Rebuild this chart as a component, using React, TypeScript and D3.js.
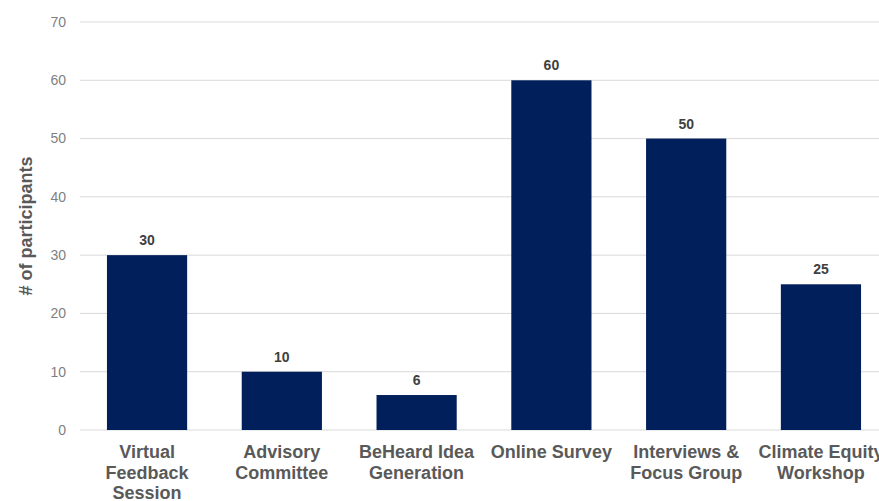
import React from "react";
import * as d3 from "d3";

const categories: string[][] = [
  ["Virtual", "Feedback", "Session"],
  ["Advisory", "Committee"],
  ["BeHeard Idea", "Generation"],
  ["Online Survey"],
  ["Interviews &", "Focus Group"],
  ["Climate Equity", "Workshop"],
];
const values = [30, 10, 6, 60, 50, 25];
const yTicks = [0, 10, 20, 30, 40, 50, 60, 70];

const W = 879;
const H = 501;
const FONT = "'Liberation Sans', Arial, sans-serif";

export default function App() {
  const x = d3
    .scaleBand<number>()
    .domain(categories.map((_, i) => i))
    .range([80, 888])
    .paddingInner(0.405)
    .paddingOuter(0.2);
  const y = d3.scaleLinear().domain([0, 70]).range([430, 22]);
  return (
    <svg
      width={W}
      height={H}
      style={{ position: "absolute", left: 0, top: 0, background: "#fff" }}
    >
      {yTicks.map((t) => (
        <g key={t}>
          <line x1={80} x2={W} y1={y(t)} y2={y(t)} stroke="#d9d9d9" strokeWidth={1} />
          <text
            x={66}
            y={y(t)}
            dy="0.35em"
            textAnchor="end"
            fontFamily={FONT}
            fontSize={14}
            fill="#7f7f7f"
          >
            {t}
          </text>
        </g>
      ))}
      {values.map((v, i) => (
        <g key={i}>
          <rect
            x={x(i)}
            y={y(v)}
            width={x.bandwidth()}
            height={y(0) - y(v)}
            fill="#001f5b"
          />
          <text
            x={(x(i) as number) + x.bandwidth() / 2}
            y={y(v) - 10}
            textAnchor="middle"
            fontFamily={FONT}
            fontSize={14}
            fontWeight="bold"
            fill="#404040"
          >
            {v}
          </text>
          <text
            x={(x(i) as number) + x.bandwidth() / 2}
            y={458}
            textAnchor="middle"
            fontFamily={FONT}
            fontSize={18}
            fontWeight="bold"
            fill="#595959"
          >
            {categories[i].map((line, j) => (
              <tspan key={j} x={(x(i) as number) + x.bandwidth() / 2} dy={j === 0 ? 0 : 20.5}>
                {line}
              </tspan>
            ))}
          </text>
        </g>
      ))}
      <text
        transform={`translate(32,${(y(0) + y(70)) / 2}) rotate(-90)`}
        textAnchor="middle"
        fontFamily={FONT}
        fontSize={18}
        fontWeight="bold"
        fill="#595959"
      >
        # of participants
      </text>
    </svg>
  );
}
